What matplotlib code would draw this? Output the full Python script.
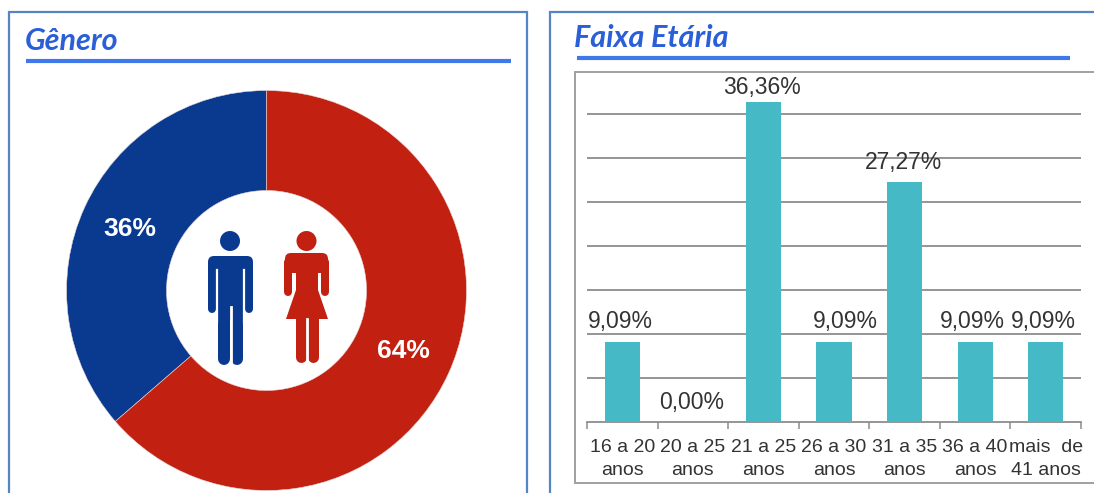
import matplotlib
matplotlib.use("Agg")
import matplotlib.pyplot as plt
from matplotlib.patches import Rectangle, Circle, Polygon, FancyBboxPatch

W, H = 1094, 493

# --- data ---
gender_labels = ["36%", "64%"]
gender_values = [36.36, 63.64]
gender_colors = ["#0A3A90", "#C22010"]

age_categories = ["16 a 20\nanos", "20 a 25\nanos", "21 a 25\nanos", "26 a 30\nanos",
                  "31 a 35\nanos", "36 a 40\nanos", "mais  de\n41 anos"]
age_values = [9.09, 0.00, 36.36, 9.09, 27.27, 9.09, 9.09]
age_labels = ["9,09%", "0,00%", "36,36%", "9,09%", "27,27%", "9,09%", "9,09%"]
grid_values = [5, 10, 15, 20, 25, 30, 35]

BLUE_LINE = "#3F78EA"
TITLE = "#2A5FD8"
BORDER = "#5585C4"
FONT = ["Liberation Sans", "DejaVu Sans"]

fig = plt.figure(figsize=(W / 100, H / 100), dpi=100, facecolor="white")


def px_axes(x0, y0, x1, y1, **kw):
    return fig.add_axes([x0 / W, 1 - y1 / H, (x1 - x0) / W, (y1 - y0) / H], **kw)


# overlay in pixel coordinates for panel furniture
bg = px_axes(0, 0, W, H)
bg.set_xlim(0, W)
bg.set_ylim(H, 0)
bg.axis("off")
bg.add_patch(Rectangle((9, 12), 518, 520, fc="white", ec=BORDER, lw=1.6))
bg.add_patch(Rectangle((550, 12), 600, 520, fc="white", ec=BORDER, lw=1.6))
bg.plot([26, 511], [61, 61], color=BLUE_LINE, lw=3, solid_capstyle="butt")
bg.plot([577, 1070], [58, 58], color=BLUE_LINE, lw=3, solid_capstyle="butt")
bg.text(25, 41, "Gênero", color=TITLE, fontsize=22, fontweight="bold", fontstyle="italic",
        family=["Lato", "Liberation Sans"], ha="left", va="center")
bg.text(574, 38, "Faixa Etária", color=TITLE, fontsize=22, fontweight="bold", fontstyle="italic",
        family=["Lato", "Liberation Sans"], ha="left", va="center")

# donut
pie_ax = px_axes(66.5, 90.5, 466.5, 490.5)
pie_ax.pie(gender_values, colors=gender_colors, startangle=90, counterclock=True, radius=1,
           wedgeprops=dict(width=0.5, edgecolor="#E8D8D8", linewidth=0.4))
pie_ax.set_xlim(-1, 1)
pie_ax.set_ylim(-1, 1)
pie_ax.text(-0.683, 0.31, gender_labels[0], color="white", fontsize=19, fontweight="bold",
            family=FONT, ha="center", va="center")
pie_ax.text(0.683, -0.305, gender_labels[1], color="white", fontsize=19, fontweight="bold",
            family=FONT, ha="center", va="center")

# bar chart frame (its right side runs past the picture edge)
bg.add_patch(Rectangle((575, 72), 560, 411, fc="white", ec="#A0A0A0", lw=1.4, zorder=1))

bar_ax = px_axes(587, 70, 1081, 422)
bar_ax.patch.set_alpha(0)
positions = list(range(len(age_values)))
bar_ax.set_xlim(-0.5, 6.5)
bar_ax.set_ylim(0, 40)
bar_ax.set_yticks(grid_values)
bar_ax.tick_params(axis="y", length=0, labelleft=False)
bar_ax.grid(axis="y", color="#8C8C8C", lw=1.3)
bar_ax.set_axisbelow(True)
bar_ax.bar(positions, age_values, width=0.5, color="#45BAC6", zorder=3)
for s in ("top", "left", "right"):
    bar_ax.spines[s].set_visible(False)
bar_ax.spines["bottom"].set_color("#8C8C8C")
bar_ax.spines["bottom"].set_linewidth(1.3)
bar_ax.set_xticks([p - 0.5 for p in positions] + [6.5])
bar_ax.set_xticklabels([])
bar_ax.tick_params(axis="x", length=5, width=1.1, color="#8C8C8C")
bar_ax.set_xticks(positions, minor=True)
bar_ax.set_xticklabels(age_categories, minor=True, fontsize=14, family=FONT, color="#333333",
                       linespacing=1.5)
bar_ax.tick_params(axis="x", which="minor", length=0, pad=12)
label_dx = [-2, -1, -1, 11, -1, -3, -2]
label_dy = [6.5, 6, 2.5, 6.5, 6, 6.5, 6.5]
for p, v, t, dx, dy in zip(positions, age_values, age_labels, label_dx, label_dy):
    bar_ax.annotate(t, (p, v), xytext=(dx * 0.72, dy), textcoords="offset points",
                    ha="center", va="bottom", fontsize=16.5, family=FONT, color="#333333", zorder=5,
                    annotation_clip=False)

# pictograms, drawn above the donut
ic = px_axes(0, 0, W, H)
ic.set_xlim(0, W)
ic.set_ylim(H, 0)
ic.axis("off")
ic.patch.set_alpha(0)
MAN = gender_colors[0]
WOMAN = gender_colors[1]


def limb(x0, y0, x1, y1, color, width):
    ic.plot([x0, x1], [y0, y1], color=color, lw=width * 0.72, solid_capstyle="round")


# man
ic.add_patch(Circle((230, 241), 10, fc=MAN, ec="none"))
ic.add_patch(FancyBboxPatch((212, 260), 37, 12, boxstyle="round,pad=4,rounding_size=6", fc=MAN, ec="none"))
limb(212, 266, 212, 309, MAN, 8)
limb(249, 266, 249, 309, MAN, 8)
ic.add_patch(Rectangle((218, 270), 25, 50, fc=MAN, ec="none"))
limb(224, 318, 224, 359, MAN, 12)
limb(237, 318, 237, 359, MAN, 12)
ic.plot([217, 217], [270, 322], color="white", lw=1.6)
ic.plot([244, 244], [270, 322], color="white", lw=1.6)
ic.plot([230.5, 230.5], [307, 366], color="white", lw=2)

# woman
ic.add_patch(Circle((306.5, 241), 10, fc=WOMAN, ec="none"))
ic.add_patch(FancyBboxPatch((289, 257), 35, 12, boxstyle="round,pad=4,rounding_size=6", fc=WOMAN, ec="none"))
limb(288, 262, 288, 292, WOMAN, 8)
limb(325, 262, 325, 292, WOMAN, 8)
ic.add_patch(Polygon([(296, 265), (318, 265), (318, 290), (328, 319), (286, 319), (296, 290)],
                     closed=True, fc=WOMAN, ec="none"))
limb(301, 315, 301, 357, WOMAN, 11)
limb(313, 315, 313, 357, WOMAN, 11)
ic.plot([307, 307], [319, 364], color="white", lw=2)

fig.savefig("out.png", dpi=100, facecolor="white")
